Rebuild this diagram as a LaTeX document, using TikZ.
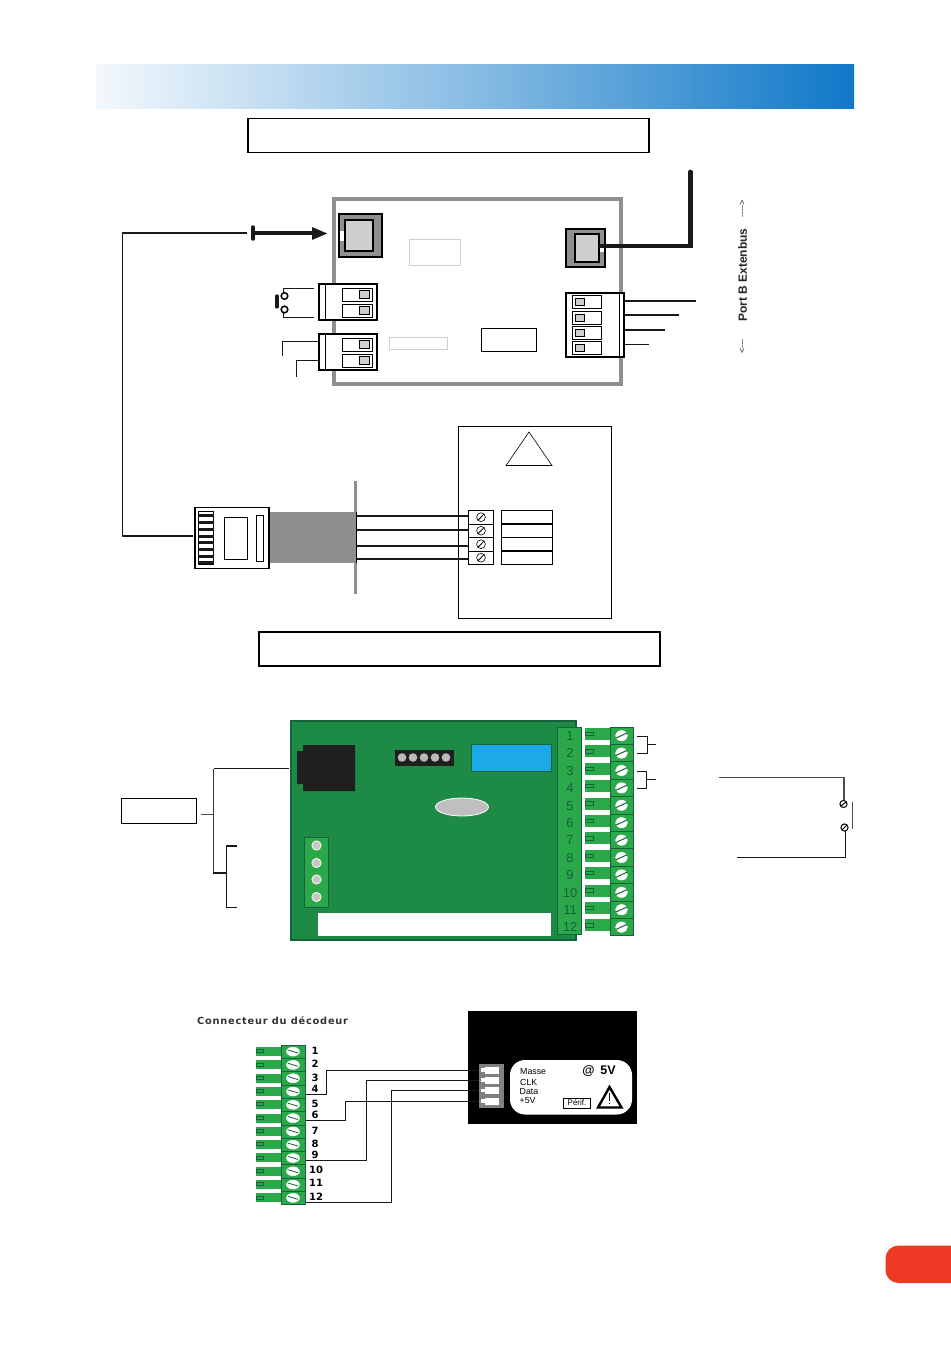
\documentclass[tikz,border=0pt]{standalone}
\usepackage{fontspec}
\setmainfont{Liberation Sans}
\newfontfamily\dejav[LetterSpace=8]{DejaVu Sans}
\newfontfamily\dejanum{DejaVu Sans}
\usetikzlibrary{arrows.meta}
\definecolor{pcb}{HTML}{1D8A45}
\definecolor{pcbdark}{HTML}{14633A}
\definecolor{term}{HTML}{2BA84A}
\definecolor{frame}{HTML}{8F8F8F}
\definecolor{lightg}{HTML}{CFCFCF}
\definecolor{blue1}{HTML}{0F78C8}
\definecolor{lcd}{HTML}{1CA9E8}
\definecolor{tabred}{HTML}{EE3A24}
\tikzset{
  wire/.style={line width=1.6pt,black!90},
  thinwire/.style={line width=1pt,black!90},
  box/.style={draw=black,line width=1.7pt,fill=white},
  ghost/.style={draw=lightg,line width=0.8pt,fill=white},
  slot/.style={draw=black,line width=0.7pt,fill=white},
  slotin/.style={draw=black,line width=0.7pt,fill=lightg},
  greenlabel/.style={text=pcbdark,font=\fontsize{13}{13}\selectfont,inner sep=0pt},
  smalllabel/.style={inner sep=0,anchor=west,font=\fontsize{8.8}{9}\selectfont},
  titlebox/.style={draw=black,line width=1.7pt,fill=white,minimum width=401pt,minimum height=34pt,inner sep=0},
}
\begin{document}
\begin{tikzpicture}[x=1pt,y=-1pt]
\useasboundingbox (0,0) rectangle (950,1348);
\fill[white] (0,0) rectangle (950,1348);
% banner
\shade[left color=white!95!blue1,right color=blue1,middle color=blue1!50!white] (96,65) rectangle (854,109);
% title boxes
\node[titlebox] (t1) at (448.5,135.5) {};
\node[titlebox] (t2) at (459.5,649) {};
% -------- top board
\draw[frame,line width=3.5pt] (334,199) rectangle (621,384);
\draw[black,line width=1.7pt,fill=frame] (339,214) rectangle (382,257);
\draw[black,line width=2pt,fill=lightg] (345,220) rectangle (373,251);
\fill[white] (340,231) rectangle (344,241);
\draw[black,line width=1.7pt,fill=frame] (566,229) rectangle (605,267);
\draw[black,line width=2pt,fill=lightg] (575,234) rectangle (599,262);
\draw[ghost] (409.5,239.5) rectangle (460.5,265.5);
\draw[ghost] (389.5,337.5) rectangle (447.5,349.5);
\draw[black,line width=0.9pt,fill=white] (481.5,328) rectangle (536.5,351);
% terminals left
\foreach \yy in {284,334}{
  \draw[box] (319,\yy) rectangle (377,\yy+36);
  \draw[black,line width=0.8pt] (325.5,\yy) -- (325.5,\yy+36);
  \draw[slot] (342,\yy+4) rectangle (372,\yy+17);
  \draw[slotin] (359,\yy+6) rectangle (369.5,\yy+14);
  \draw[slot] (342,\yy+20) rectangle (372,\yy+33);
  \draw[slotin] (359,\yy+22) rectangle (369.5,\yy+30);
}
% terminals right
\draw[box] (566,293) rectangle (624,357);
\draw[black,line width=0.8pt] (619.5,293) -- (619.5,357);
\foreach \yy in {295,311,326,341}{
  \draw[slot] (572.5,\yy) rectangle (601.5,\yy+13);
  \draw[slotin] (575,\yy+3) rectangle (584.5,\yy+10);
}
% external wires
\coordinate (rjout) at (193,536);
\coordinate (bar) at (247,233);
\draw[wire,line join=round] (rjout) -- (122.5,536) -- (122.5,233) -- (bar);
\draw[line width=3.5pt,line cap=round,black!90] (253,227) -- (253,239);
\draw[line width=4pt,black!90,-{Triangle[length=16pt,width=11.5pt]}] (254,233.5) -- (328,233.5);
\draw[line width=4.6pt,black!90,line cap=round,line join=miter] (601,246) -- (690.5,246) -- (690.5,172);
\fill[white] (600,248) rectangle (604,252);
\draw[wire] (624,301) -- (696,301);
\draw[wire] (624,315) -- (679,315);
\draw[wire] (624,330) -- (665,330);
\draw[thinwire] (624,344.5) -- (649,344.5);
\draw[thinwire] (314,288.5) -- (283.5,288.5) -- (283.5,294);
\draw[thinwire] (314,317.5) -- (283.5,317.5) -- (283.5,312);
\draw[line width=1.5pt,black,fill=white] (284.5,296) circle (3.3);
\draw[line width=1.5pt,black,fill=white] (284.5,309.5) circle (3.3);
\draw[line width=3.2pt,black!90,line cap=round] (277,296) -- (277,307);
\draw[thinwire] (319,341.5) -- (282.5,341.5) -- (282.5,356);
\draw[thinwire] (319,360.5) -- (296.5,360.5) -- (296.5,377);
\node[rotate=90,inner sep=0,font=\fontsize{12}{12}\selectfont\bfseries,text=black!85] (port) at (742.5,275) {Port B Extenbus};
\node[rotate=90,inner sep=0,anchor=east,font=\fontsize{9}{10}\selectfont,text=black!85] (portl) at (742.5,339) {<{-}{-}{-}};
\node[rotate=90,inner sep=0,anchor=west,font=\fontsize{9}{10}\selectfont,text=black!85] (portr) at (742.5,218) {{-}{-}{-}{-}>};
% -------- middle
\draw[black,line width=0.9pt] (458.5,426.5) rectangle (611.5,618.5);
\draw[black,line width=0.6pt] (506,465.5) -- (529,432) -- (552,465.5) -- cycle;
\draw[frame,line width=2.5pt] (355.5,481) -- (355.5,594);
\fill[frame] (268,512) rectangle (356,563);
\draw[black,line width=0.7pt] (356,512) -- (356,563);
\draw[box] (195,507.5) rectangle (269,568.5);
\draw[black,line width=0.7pt,fill=white] (198.5,511.5) rectangle (213.5,564.5);
\foreach \yy in {514,521,528,535,541,548,555,561}{\fill[black!90] (198.5,\yy) rectangle (213.5,\yy+3.4);}
\draw[black,line width=0.7pt] (224.5,517.5) rectangle (247.5,559.5);
\draw[black,line width=0.7pt] (256.5,515.5) rectangle (263.5,561.5);
\foreach \yy in {515.7,530.3,545.7,558.7}{
  \draw[line width=1.8pt,black!90] (357,\yy) -- (468,\yy);
}
\foreach \yy in {510.5,524,537.5,551}{
  \draw[black,line width=0.8pt] (468.5,\yy) rectangle (493.5,\yy+13.5);
  \draw[black,line width=0.6pt] (481,\yy+6.7) circle (4.4);
  \draw[black,line width=0.8pt] (477.8,\yy+10) -- (484.2,\yy+3.4);
}
\draw[black,line width=0.8pt] (501.5,510.5) rectangle (552.5,564.5);
\draw[black,line width=1.2pt] (501.5,524) -- (552.5,524);
\draw[black,line width=0.6pt] (501.5,537.5) -- (552.5,537.5);
\draw[black,line width=1.2pt] (501.5,551) -- (552.5,551);
% -------- green board
\draw[pcbdark,line width=1.2pt,fill=pcb] (291,721) rectangle (576,940);
\fill[black!88] (303,745) -- (355,745) -- (355,791) -- (303,791) -- (303,784) -- (297,784) -- (297,751) -- (303,751) -- cycle;
\fill[black!88] (395,750) rectangle (454,766);
\foreach \xx in {402,413,424,435,446}{\fill[gray!55] (\xx,757.5) circle (4.3);}
\draw[pcbdark,fill=lcd,line width=1pt] (471,744) rectangle (551.5,771);
\draw[white,line width=0.8pt,fill=gray!50] (462,807) ellipse (26.5 and 9);
\draw[pcbdark,line width=0.6pt,fill=term] (304.5,837.5) rectangle (328,907);
\foreach \yy in {845.5,863,879.5,897}{\draw[white,line width=0.8pt,fill=gray!45] (316.5,\yy) circle (4.6);}
\fill[white] (318,913) rectangle (551,936);
% terminal block on green board
\draw[pcbdark,line width=0.7pt,fill=term] (557.5,727) rectangle (581.5,934.5);
\foreach \i in {1,...,12}{
  \pgfmathsetmacro\yy{727+17.4*(\i-1)}
  \node[greenlabel] at (570,\yy+9) {\i};
  \fill[term] (585,\yy+1) rectangle (610,\yy+13);
  \draw[pcbdark,line width=0.5pt] (585,\yy+5) rectangle (593,\yy+8.5);
  \draw[pcbdark,line width=0.7pt,fill=term] (610,\yy) rectangle (633.5,\yy+17.4);
  \draw[white,fill=white] (621.5,\yy+8.7) ellipse (6 and 5.2);
  \draw[pcbdark,line width=1pt] (616,\yy+11) -- (627,\yy+6);
}
% brackets
\draw[wire,line join=miter] (637,736.5) -- (647.5,736.5) -- (647.5,753.5) -- (637,753.5);
\draw[wire] (647.5,744.5) -- (656,744.5);
\draw[thinwire] (637,771.5) -- (646.5,771.5) -- (646.5,788.5) -- (637,788.5);
\draw[thinwire] (646.5,779.5) -- (656,779.5);
\draw[line width=1.5pt,black!70] (719,777.5) -- (844,777.5) -- (844,800);
\draw[thinwire,line width=1.2pt] (737,857.5) -- (845.5,857.5) -- (845.5,831);
\draw[black,line width=1pt,fill=white] (843.5,804) circle (3.6);
\draw[black,line width=1pt,fill=white] (844.5,827.5) circle (3.6);
\draw[line width=1pt,black!70] (852.5,802) -- (852.5,829);
\draw[line width=1pt,black] (841,806) -- (846,802);
\draw[line width=1pt,black] (842,830) -- (847,825);
% left tree
\draw[black,line width=1pt] (121.5,798.5) rectangle (196.5,823.5);
\draw[thinwire,black!70] (201,814) -- (213.5,814);
\draw[line width=1.8pt,black!90] (289,768.5) -- (213.5,768.5);
\draw[line width=1.4pt,black!80] (213.5,768.5) -- (213.5,873);
\draw[line width=1.7pt,black!90] (213,873) -- (227,873);
\draw[thinwire] (226.5,846) -- (226.5,907.5);
\draw[wire] (226,846) -- (237,846);
\draw[thinwire] (226.5,907.5) -- (237,907.5);
% -------- decoder
\node[inner sep=0,anchor=west,font=\fontsize{9.8}{10}\dejav\bfseries,text=black!80] (dectitle) at (197,1020.5) {Connecteur du décodeur};
\fill[black] (468,1011) rectangle (637,1124);
\fill[white,rounded corners=15pt] (510,1060) rectangle (632,1114.5);
\fill[gray] (479,1064) rectangle (504,1107.5);
\foreach \yy in {1066.5,1076.5,1087,1097.5}{
  \fill[white] (485,\yy) rectangle (499,\yy+7);
  \fill[white] (481,\yy+1.5) rectangle (485,\yy+5);
}
\node[smalllabel] (lm) at (520,1071.5) {Masse};
\node[smalllabel] (lc) at (520,1082) {CLK};
\node[smalllabel] (ld) at (519.5,1091.5) {Data};
\node[smalllabel] (lv) at (519.5,1100.5) {+5V};
\node[inner sep=0,font=\fontsize{12.5}{13}\selectfont\bfseries] (at5) at (599,1071.5) {@\hspace{6pt}5V};
\node[draw=black,line width=0.6pt,inner sep=0,minimum width=26.5pt,minimum height=10pt,font=\fontsize{8}{8}\selectfont] (perif) at (577,1103) {Périf.};
\draw[black,line width=2.4pt,line join=miter] (598,1107.5) -- (609.5,1087) -- (621.5,1107.5) -- cycle;
\draw[black,line width=0.6pt] (609.5,1093) -- (609.5,1101);
\fill[black] (609.5,1103.5) circle (0.7);
% decoder connector
\foreach \i/\ly in {1/1050.5,2/1063.5,3/1077.5,4/1089,5/1103.5,6/1115,7/1130.5,8/1143.5,9/1154.5,10/1170,11/1183,12/1196.5}{
  \pgfmathsetmacro\yy{1045+13.3*(\i-1)}
  \fill[term] (256,\yy+2) rectangle (281,\yy+11);
  \draw[pcbdark,line width=0.5pt] (256,\yy+4.5) rectangle (263,\yy+7.5);
  \draw[pcbdark,line width=0.5pt,fill=term] (281,\yy) rectangle (305.5,\yy+13.3);
  \draw[white,fill=white] (293,\yy+6.6) ellipse (6.5 and 4.5);
  \draw[pcbdark,line width=0.8pt] (288,\yy+5) -- (298,\yy+8);
  \pgfmathsetmacro\xl{\i<10?315:316}
  \node[inner sep=0,font=\fontsize{10}{10}\dejanum\bfseries] at (\xl,\ly) {\i};
}
\draw[thinwire] (306,1094.5) -- (326,1094.5) -- (326,1070.5) -- (479,1070.5);
\draw[thinwire] (306,1120.5) -- (345,1120.5) -- (345,1101) -- (479,1101);
\draw[thinwire] (306,1160) -- (366,1160) -- (366,1080) -- (479,1080);
\draw[thinwire] (306,1202.5) -- (391.5,1202.5) -- (391.5,1090.5) -- (479,1090.5);
% red tab
\fill[tabred,rounded corners=13pt] (885.5,1245.5) rectangle (975,1283);
\end{tikzpicture}
\end{document}
